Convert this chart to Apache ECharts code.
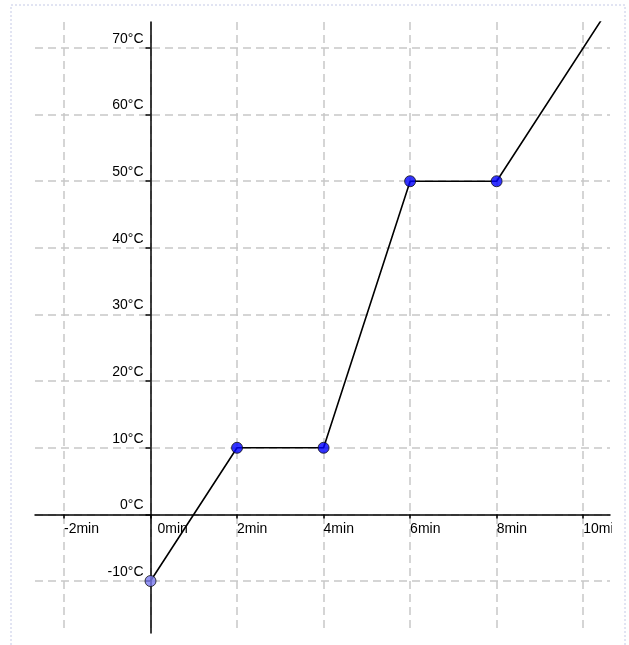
<!DOCTYPE html>
<html>
<head>
<meta charset="utf-8">
<script src="https://cdn.jsdelivr.net/npm/echarts@6/dist/echarts.min.js"></script>
<style>
html,body{margin:0;padding:0;background:#fff;}
#chart{width:629px;height:645px;}
</style>
</head>
<body>
<div id="chart"></div>
<script>
// Data
const times = [0, 2, 4, 6, 8, 10.5];          // minutes
const temps = [-10, 10, 10, 50, 50, 75];      // °C (last point runs off the top)
const pointTimes = [0, 2, 4, 6, 8];
const pointTemps = [-10, 10, 10, 50, 50];
const xTicks = [-2, 0, 2, 4, 6, 8, 10];
const yTicks = [-10, 0, 10, 20, 30, 40, 50, 60, 70];

const X_MIN = -2.67, X_MAX = 10.62;
const Y_MIN = -17.8, Y_MAX = 73.9;

const G_LEFT = 35, G_RIGHT = 19, G_TOP = 22, G_BOTTOM = 12;
const W = 629, H = 645;
const gw = W - G_LEFT - G_RIGHT, gh = H - G_TOP - G_BOTTOM;
// shift axes so they cross at the origin
const yAxisOffset = -((0 - X_MIN) / (X_MAX - X_MIN) * gw);
const xAxisOffset = -((0 - Y_MIN) / (Y_MAX - Y_MIN) * gh);

const chart = echarts.init(document.getElementById('chart'));
const font = "'Liberation Sans', Arial, sans-serif";
const FS = 14;
const gridLine = {show: true, lineStyle: {color: '#c8c8c8', width: 1.5, type: [8, 5]}};

chart.setOption({
  animation: false,
  backgroundColor: '#fff',
  grid: {left: G_LEFT, right: G_RIGHT, top: G_TOP, bottom: G_BOTTOM, containLabel: false, outerBoundsMode: 'none'},
  xAxis: {
    type: 'value', min: X_MIN, max: X_MAX, position: 'bottom', offset: xAxisOffset,
    axisLine: {onZero: false, lineStyle: {color: '#000', width: 1.5}},
    axisTick: {show: true, customValues: xTicks, length: 4, inside: false, lineStyle: {color: '#000', width: 1.5}},
    axisLabel: {
      customValues: xTicks, align: 'left', margin: 8, color: '#000', fontSize: FS, fontFamily: font,
      formatter: v => v === 0 ? '{z|0min}' : v + 'min',
      rich: {z: {padding: [0, 0, 0, 7], fontSize: FS, fontFamily: font, color: '#000'}}
    },
    splitLine: gridLine
  },
  yAxis: {
    type: 'value', min: Y_MIN, max: Y_MAX, position: 'left', offset: yAxisOffset,
    axisLine: {onZero: false, lineStyle: {color: '#000', width: 1.5}},
    axisTick: {show: true, customValues: yTicks, length: 5, inside: false, lineStyle: {color: '#000', width: 1.5}},
    axisLabel: {
      customValues: yTicks, align: 'right', verticalAlign: 'bottom', margin: 7,
      padding: [0, 0, 2, 0], color: '#000', fontSize: FS, fontFamily: font,
      formatter: v => v + '°C'
    },
    splitLine: gridLine
  },
  series: [
    {
      type: 'line', data: times.map((t, i) => [t, temps[i]]),
      symbol: 'none', clip: true,
      lineStyle: {color: '#000', width: 1.6}, z: 3
    },
    {
      type: 'scatter', symbolSize: 11, z: 4,
      data: pointTimes.map((t, i) => ({
        value: [t, pointTemps[i]],
        itemStyle: {color: i === 0 ? '#7b7bf0' : '#0000ff', borderColor: '#111', borderWidth: 1}
      }))
    }
  ],
  graphic: [
    {type: 'rect', z: 100, silent: true, shape: {x: 612, y: 0, width: 12, height: 645}, style: {fill: '#fff'}},
    {type: 'rect', z: 101, silent: true, shape: {x: 11, y: 5, width: 614, height: 660},
     style: {fill: 'none', stroke: '#c4c9e6', lineWidth: 1, lineDash: [2, 2]}}
  ]
});
</script>
</body>
</html>
